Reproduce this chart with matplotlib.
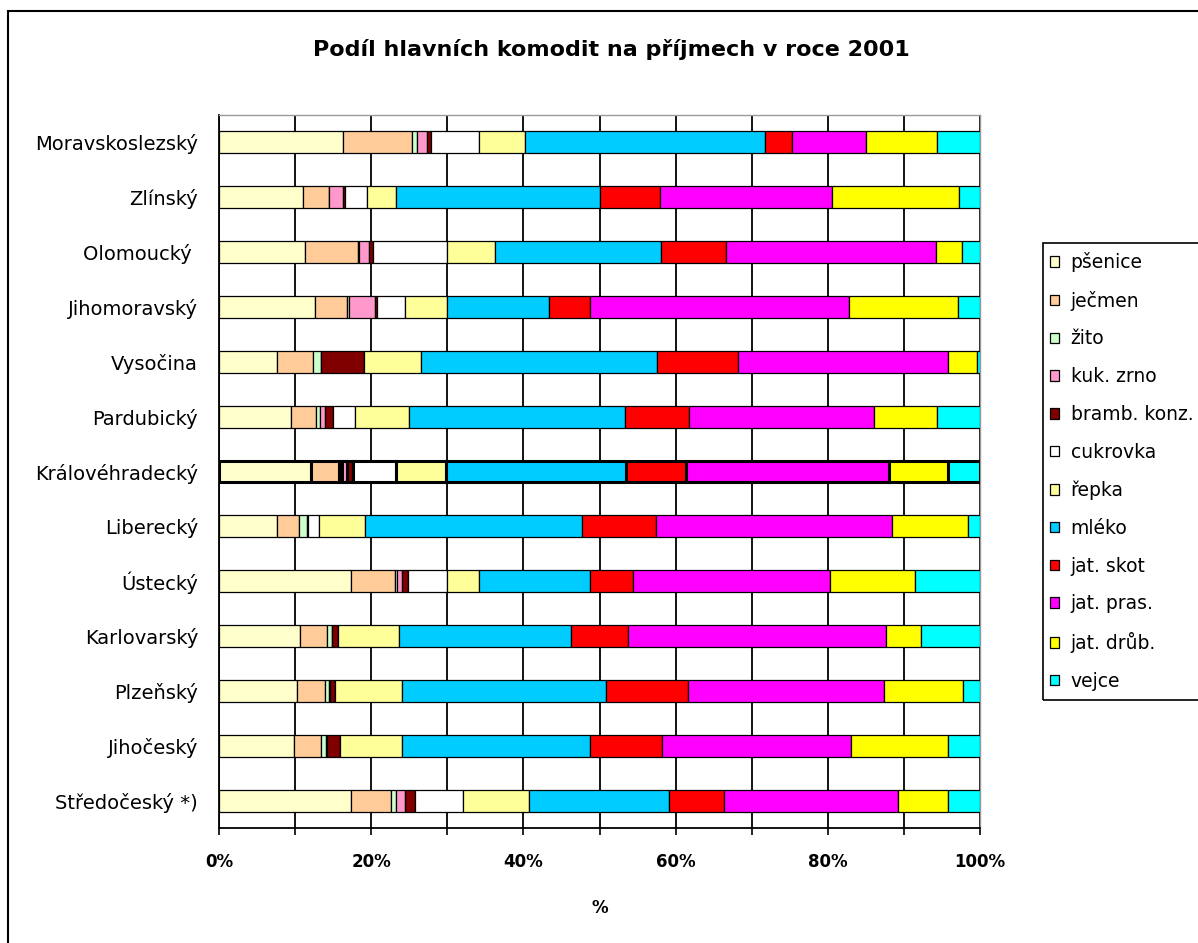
import numpy as np
import matplotlib.pyplot as plt
from matplotlib.patches import Rectangle

plt.rcParams['font.family'] = ['DejaVu Sans']

# kraje odspodu nahoru (jako v Excelu)
regions = ['Středočeský *)', 'Jihočeský', 'Plzeňský', 'Karlovarský', 'Ústecký',
           'Liberecký', 'Královéhradecký', 'Pardubický', 'Vysočina',
           'Jihomoravský', 'Olomoucký ', 'Zlínský', 'Moravskoslezský']

psenice = [17.4, 9.8, 10.3, 10.6, 17.3, 7.6, 12.1, 9.5, 7.6, 12.6, 11.3, 11.0, 16.3]
jecmen = [5.2, 3.6, 3.6, 3.6, 5.8, 2.9, 3.7, 3.3, 4.7, 4.2, 6.9, 3.4, 9.1]
zito = [0.6, 0.6, 0.6, 0.7, 0.3, 1.0, 0.3, 0.5, 1.1, 0.3, 0.2, 0.0, 0.6]
kuk_zrno = [1.3, 0.2, 0.1, 0.0, 0.7, 0.2, 0.7, 0.6, 0.0, 3.4, 1.3, 1.9, 1.3]
bramb_konz = [1.3, 1.7, 0.7, 0.7, 0.7, 0.0, 0.8, 1.1, 5.6, 0.2, 0.6, 0.3, 0.6]
cukrovka = [6.3, 0.0, 0.0, 0.0, 5.2, 1.4, 5.6, 2.9, 0.0, 3.7, 9.7, 2.8, 6.3]
repka = [8.7, 8.1, 8.7, 8.1, 4.2, 6.1, 6.6, 7.1, 7.5, 5.6, 6.3, 3.9, 6.0]
mleko = [18.3, 24.7, 26.8, 22.6, 14.5, 28.5, 23.7, 28.4, 31.1, 13.4, 21.8, 26.7, 31.5]
jat_skot = [7.2, 9.5, 10.8, 7.4, 5.7, 9.7, 7.9, 8.4, 10.6, 5.3, 8.5, 7.9, 3.6]
jat_pras = [22.9, 24.9, 25.8, 33.9, 25.9, 31.0, 26.6, 24.3, 27.6, 34.1, 27.6, 22.6, 9.7]
jat_drub = [6.6, 12.7, 10.4, 4.7, 11.2, 10.0, 7.8, 8.3, 3.8, 14.3, 3.4, 16.8, 9.4]
vejce = [4.2, 4.2, 2.2, 7.7, 8.5, 1.6, 4.2, 5.6, 0.4, 2.9, 2.4, 2.7, 5.6]

commodities = ['pšenice', 'ječmen', 'žito', 'kuk. zrno', 'bramb. konz.', 'cukrovka',
               'řepka', 'mléko', 'jat. skot', 'jat. pras.', 'jat. drůb.', 'vejce']
series = [psenice, jecmen, zito, kuk_zrno, bramb_konz, cukrovka,
          repka, mleko, jat_skot, jat_pras, jat_drub, vejce]
colors = ['#FFFFCC', '#FFCC99', '#CCFFCC', '#FF99CC', '#800000', '#FFFFFF',
          '#FFFF99', '#00CCFF', '#FF0000', '#FF00FF', '#FFFF00', '#00FFFF']

W, H = 1198, 943
fig = plt.figure(figsize=(W/100, H/100), dpi=100)
ax = fig.add_axes([219/W, 1-828/H, (980-219)/W, (828-115)/H])

y = np.arange(len(regions))
left = np.zeros(len(regions))
# zvýrazněný (vybraný) řádek má silnější okraj
lws = [2.2 if r == 'Královéhradecký' else 0.9 for r in regions]
for name, vals, c in zip(commodities, series, colors):
    vals = np.array(vals)
    ax.barh(y, vals, left=left, height=0.4, color=c, edgecolor='black',
            linewidth=lws, label=name, zorder=3)
    left += vals

ax.set_xlim(0, 100)
ax.set_ylim(-0.5, len(regions) - 0.5)
ax.set_xticks(np.arange(0, 101, 10))
ax.set_xticklabels([f'{v}%' if v % 20 == 0 else '' for v in range(0, 101, 10)],
                   fontweight='bold', fontsize=12)
ax.tick_params(axis='x', length=5, width=1.2, pad=13)
ax.set_yticks(y)
ax.set_yticklabels(regions, fontsize=14)
ax.tick_params(axis='y', length=0, pad=15)
ax.grid(axis='x', color='black', linewidth=1.3, zorder=0)
ax.set_axisbelow(True)
for s in ['top', 'right']:
    ax.spines[s].set_color('#999999')
    ax.spines[s].set_linewidth(1)
for s in ['left', 'bottom']:
    ax.spines[s].set_linewidth(1.3)

ax.set_xlabel('%', fontsize=12, fontweight='bold', labelpad=20)
fig.text(611/W, 1-50/H, 'Podíl hlavních komodit na příjmech v roce 2001',
         ha='center', va='center', fontsize=16, fontweight='bold')

# legenda, rámeček kreslený zvlášť (v originále přesahuje okraj)
leg = fig.legend(loc='upper left', bbox_to_anchor=(1050/W, 1-252/H),
                 fontsize=13.5, frameon=False,
                 handlelength=0.5, handleheight=0.5, handletextpad=0.6,
                 labelspacing=1.0, borderpad=0, borderaxespad=0)
fig.patches.append(Rectangle((1043/W, 1-700/H), 0.2, (700-243)/H, transform=fig.transFigure,
                             fill=False, edgecolor='black', linewidth=1.2))

# rámeček grafu
fig.patches.append(Rectangle((8/W, -0.1), 1.2, 1-11/H+0.1, transform=fig.transFigure,
                             fill=False, edgecolor='black', linewidth=1.5))

fig.savefig('out.png', dpi=100)
